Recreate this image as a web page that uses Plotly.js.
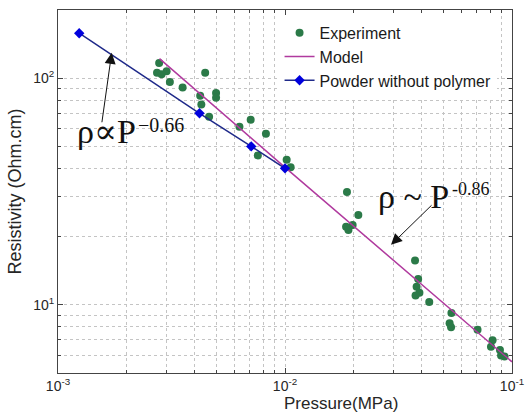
<!DOCTYPE html>
<html>
<head>
<meta charset="utf-8">
<script src="https://cdn.plot.ly/plotly-3.0.1.min.js"></script>
<style>html,body{margin:0;padding:0;background:#fff;}#chart{width:528px;height:414px;}</style>
</head>
<body>
<div id="chart"></div>
<script>
// Experiment data (Pressure MPa, Resistivity Ohm.cm)
const expPressure = [0.00279, 0.00273, 0.00286, 0.00301, 0.00311, 0.00354, 0.00445, 0.00423, 0.00497, 0.00497,
  0.00428, 0.00463, 0.00630, 0.00706, 0.00824, 0.00759, 0.01017, 0.01059, 0.01875, 0.02104,
  0.01986, 0.01858, 0.01903, 0.0374, 0.0386, 0.0380, 0.0391, 0.0376, 0.0432, 0.0541,
  0.0531, 0.0539, 0.0705, 0.0821, 0.0808, 0.0885, 0.0895, 0.0927];
const expResistivity = [116.7, 105.8, 104.1, 107.3, 96.3, 90.9, 105.8, 83.6, 86.0, 82.0,
  76.6, 67.6, 61.1, 65.5, 56.8, 45.6, 43.7, 40.5, 31.5, 24.9,
  22.5, 22.1, 21.4, 15.7, 13.0, 12.0, 11.3, 11.0, 10.3, 9.2,
  8.3, 7.95, 7.75, 6.97, 6.53, 6.32, 5.97, 5.92];

// Model line
const modelPressure = [0.0028, 0.01, 0.1];
const modelResistivity = [122, 40.4, 5.6];

// Powder without polymer
const powderPressure = [0.00124, 0.0042, 0.0071, 0.01];
const powderResistivity = [158, 70, 50, 40];

// Tick labels
const xTickVals = [0.001, 0.01, 0.1];
const xTickText = ['10<sup>-3</sup>', '10<sup>-2</sup>', '10<sup>-1</sup>'];
const yTickVals = [10, 100];
const yTickText = ['10<sup>1</sup>', '10<sup>2</sup>'];

const gridColor = '#c4c4c4';
const axisFont = {family: 'Liberation Sans, Arial, sans-serif', size: 14, color: '#262626'};

const traces = [
  {
    x: expPressure, y: expResistivity, name: 'Experiment', type: 'scatter', mode: 'markers',
    marker: {symbol: 'circle', size: 8, color: '#2b7a48'}
  },
  {
    x: modelPressure, y: modelResistivity, name: 'Model', type: 'scatter', mode: 'lines',
    line: {color: '#b03a9e', width: 1.5}
  },
  {
    x: powderPressure, y: powderResistivity, name: 'Powder without polymer', type: 'scatter', mode: 'lines+markers',
    line: {color: '#1f2a8a', width: 1.5},
    marker: {symbol: 'diamond', size: 8, color: '#0000dd'}
  }
];

const serif = 'Liberation Serif, Times New Roman, DejaVu Serif, serif';

const layout = {
  width: 528, height: 414,
  margin: {l: 58, r: 16, t: 10, b: 41},
  paper_bgcolor: '#ffffff', plot_bgcolor: '#ffffff',
  showlegend: true,
  legend: {
    x: 0.488, y: 0.984, xanchor: 'left', yanchor: 'top',
    bgcolor: '#ffffff', borderwidth: 0,
    font: {family: 'Liberation Sans, Arial, sans-serif', size: 16, color: '#1a1a1a'},
    tracegroupgap: 0
  },
  xaxis: {
    type: 'log', range: [-3, -1],
    tickmode: 'array', tickvals: xTickVals, ticktext: xTickText,
    ticks: 'inside', ticklen: 5, tickcolor: '#444',
    showline: true, linecolor: '#444', linewidth: 1, mirror: 'ticks',
    showgrid: true, gridcolor: gridColor, griddash: 'dot', gridwidth: 1,
    minor: {dtick: 'D1', ticks: 'inside', ticklen: 3, tickcolor: '#444', showgrid: true, gridcolor: gridColor, griddash: 'dot', gridwidth: 1},
    tickfont: axisFont, zeroline: false,
    title: {text: '', font: {family: 'Liberation Sans, Arial, sans-serif', size: 17, color: '#262626'}}
  },
  yaxis: {
    type: 'log', range: [Math.log10(5), Math.log10(200)],
    tickmode: 'array', tickvals: yTickVals, ticktext: yTickText,
    ticks: 'inside', ticklen: 5, tickcolor: '#444',
    showline: true, linecolor: '#444', linewidth: 1, mirror: 'ticks',
    showgrid: true, gridcolor: gridColor, griddash: 'dot', gridwidth: 1,
    minor: {dtick: 'D1', ticks: 'inside', ticklen: 3, tickcolor: '#444', showgrid: true, gridcolor: gridColor, griddash: 'dot', gridwidth: 1},
    tickfont: axisFont, zeroline: false,
    title: {text: 'Resistivity (Ohm.cm)', standoff: 6, font: {family: 'Liberation Sans, Arial, sans-serif', size: 18, color: '#262626'}}
  },
  annotations: [
    {xref: 'paper', yref: 'paper', x: 0.623, y: -0.083, xanchor: 'center', yanchor: 'middle',
     text: 'Pressure(MPa)', showarrow: false,
     font: {family: 'Liberation Sans, Arial, sans-serif', size: 17, color: '#262626'}},
    // rho ∝ P^-0.66
    {xref: 'paper', yref: 'paper', x: (75 - 58) / 454, y: (373 - 131) / 363, xanchor: 'left', yanchor: 'middle',
     text: 'ρ∝P', showarrow: false, font: {family: serif, size: 34, color: '#111'}},
    {xref: 'paper', yref: 'paper', x: (136 - 58) / 454, y: (373 - 125) / 363, xanchor: 'left', yanchor: 'middle',
     text: '−0.66', showarrow: false, font: {family: serif, size: 20, color: '#111'}},
    // rho ~ P^-0.86
    {xref: 'paper', yref: 'paper', x: (451 - 58) / 454, y: (373 - 196) / 363, xanchor: 'right', yanchor: 'middle',
     text: 'ρ ~ P', showarrow: false, font: {family: serif, size: 34, color: '#111'}},
    {xref: 'paper', yref: 'paper', x: (450 - 58) / 454, y: (373 - 189) / 363, xanchor: 'left', yanchor: 'middle',
     text: '-0.86', showarrow: false, font: {family: serif, size: 18, color: '#111'}},
    // arrows
    {xref: 'x', yref: 'y', x: -2.7634, y: 2.1123, text: '', showarrow: true,
     axref: 'pixel', ayref: 'pixel', ax: -10, ay: 71,
     arrowhead: 2, arrowsize: 2.2, arrowwidth: 1, arrowcolor: '#111'},
    {xref: 'x', yref: 'y', x: -1.533, y: 1.2645, text: '', showarrow: true,
     axref: 'pixel', ayref: 'pixel', ax: 42, ay: -41,
     arrowhead: 2, arrowsize: 2.2, arrowwidth: 1, arrowcolor: '#111'}
  ]
};

Plotly.newPlot('chart', traces, layout, {displayModeBar: false, staticPlot: true});
</script>
</body>
</html>
